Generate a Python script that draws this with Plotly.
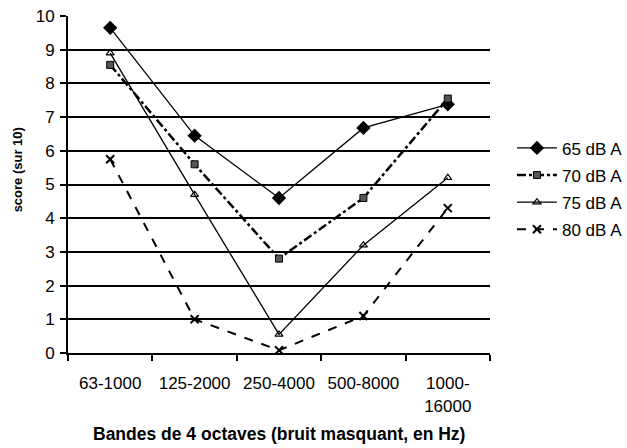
import plotly.graph_objects as go

categories = ["63-1000", "125-2000", "250-4000", "500-8000", "1000-<br>16000"]
series_names = ["65 dB A", "70 dB A", "75 dB A", "80 dB A"]
v65 = [9.65, 6.45, 4.6, 6.68, 7.38]
v70 = [8.55, 5.6, 2.8, 4.6, 7.55]
v75 = [8.9, 4.7, 0.55, 3.2, 5.2]
v80 = [5.75, 1.0, 0.08, 1.1, 4.3]

FONT = "Liberation Sans, Arial, sans-serif"

fig = go.Figure()
fig.add_trace(go.Scatter(x=categories, y=v65, name=series_names[0], mode="lines+markers",
                         legendgroup="a",
                         line=dict(color="black", width=1.3),
                         marker=dict(symbol="diamond", size=11, color="black")))
fig.add_trace(go.Scatter(x=categories, y=v70, name=series_names[1], mode="lines+markers",
                         legendgroup="b",
                         line=dict(color="black", width=2.5, dash="dashdot"),
                         marker=dict(symbol="square", size=7, color="#555555",
                                     line=dict(color="black", width=1))))
fig.add_trace(go.Scatter(x=categories, y=v75, name=series_names[2], mode="lines+markers",
                         legendgroup="c",
                         line=dict(color="black", width=1.3),
                         marker=dict(symbol="triangle-up-open", size=7, color="black",
                                     line=dict(width=1.2))))
fig.add_trace(go.Scatter(x=categories, y=v80, name=series_names[3], mode="lines+markers",
                         legendgroup="d",
                         line=dict(color="black", width=2, dash="dash"),
                         marker=dict(symbol="x-thin-open", size=8, color="black",
                                     line=dict(width=2, color="black"))))

fig.update_layout(
    width=627, height=448,
    margin=dict(l=68, r=137, t=16, b=95, autoexpand=False),
    paper_bgcolor="white", plot_bgcolor="white",
    font=dict(family=FONT, size=17, color="black"),
    showlegend=True,
    legend=dict(x=1.052, y=0.487, xanchor="left", yanchor="middle",
                font=dict(size=17), tracegroupgap=2, itemwidth=40,
                bgcolor="rgba(0,0,0,0)"),
    xaxis=dict(type="category", range=[-0.5, 4.5], tickson="boundaries",
               ticks="outside", ticklen=6, tickcolor="black", tickwidth=2,
               tickangle=0, ticklabelstandoff=14,
               showline=True, linecolor="black", linewidth=2, showgrid=False,
               automargin=False, tickfont=dict(size=17)),
    yaxis=dict(range=[0, 10], dtick=1, ticks="outside", ticklen=6, tickcolor="black",
               tickwidth=2, showline=True, linecolor="black", linewidth=2,
               showgrid=True, gridcolor="black", gridwidth=2, zeroline=False,
               ticklabelstandoff=2,
               automargin=False, tickfont=dict(size=17)),
    annotations=[
        dict(text="<b>Bandes de 4 octaves (bruit masquant, en Hz)</b>",
             xref="paper", yref="paper", x=0.5, y=-0.240, xanchor="center",
             yanchor="middle", showarrow=False, font=dict(size=17.5, family=FONT)),
        dict(text="<b>score (sur 10)</b>", textangle=-90,
             xref="paper", yref="paper", x=-0.12, y=0.543, xanchor="center",
             yanchor="middle", showarrow=False, font=dict(size=13, family=FONT)),
    ],
)

fig.write_html("out.html", config={"displayModeBar": False},
               post_script="document.body.style.margin='0';document.body.style.overflow='hidden';")
